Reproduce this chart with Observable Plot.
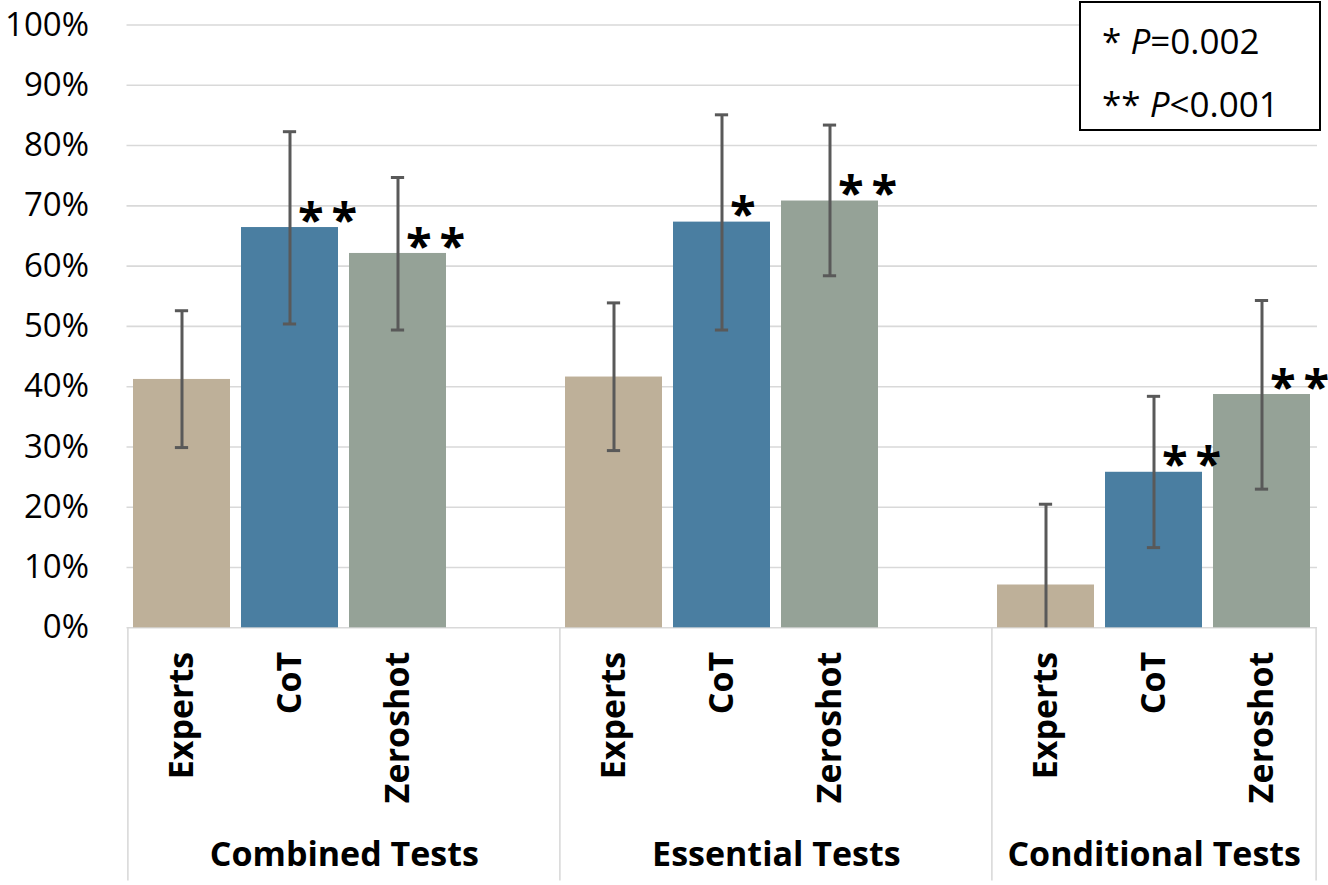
<!DOCTYPE html>
<html>
<head>
<meta charset="utf-8">
<script src="https://cdn.jsdelivr.net/npm/d3@7"></script>
<script src="https://cdn.jsdelivr.net/npm/@observablehq/plot@0.6"></script>
<style>
  html, body { margin: 0; padding: 0; background: #fff; }
  #wrap { position: relative; width: 1328px; height: 885px; overflow: hidden; }
  g[aria-label="x-axis tick label"] text { font-weight: bold; font-size: 34px; }
  g[aria-label="y-axis tick label"] text { font-size: 33px; }
  #legend {
    position: absolute; left: 1079px; top: 1px; width: 242px; height: 130px;
    border: 2px solid #000; background: #fff; box-sizing: border-box;
    font-family: "Open Sans", sans-serif; font-size: 35px; color: #000;
  }
  #legend div { position: absolute; left: 21px; white-space: nowrap; line-height: 1; }
</style>
</head>
<body>
<div id="wrap"></div>
<script>
const groups = ["Combined Tests", "Essential Tests", "Conditional Tests"];
const series = ["Experts", "CoT", "Zeroshot"];
const colors = ["#BEB099", "#4A7EA1", "#95A297"];

const expertsValue = [41.2, 41.6, 7.1];
const expertsLow   = [29.9, 29.4, 0.0];
const expertsHigh  = [52.6, 53.9, 20.5];

const cotValue = [66.4, 67.3, 25.8];
const cotLow   = [50.4, 49.4, 13.3];
const cotHigh  = [82.3, 85.1, 38.4];

const zeroshotValue = [62.1, 70.8, 38.7];
const zeroshotLow   = [49.4, 58.4, 23.0];
const zeroshotHigh  = [74.7, 83.4, 54.3];

const expertsStars  = ["", "", ""];
const cotStars      = ["**", "*", "**"];
const zeroshotStars = ["**", "**", "**"];

const yTicks = [0, 10, 20, 30, 40, 50, 60, 70, 80, 90, 100];
const legendStars = ["*", "**"];
const legendTests = ["=0.002", "<0.001"];
// slots per group (first two groups have an empty trailing slot)
const groupSlots = [4, 4, 3];

// build table
const values = [expertsValue, cotValue, zeroshotValue];
const lows = [expertsLow, cotLow, zeroshotLow];
const highs = [expertsHigh, cotHigh, zeroshotHigh];
const stars = [expertsStars, cotStars, zeroshotStars];
const rows = [];
const domain = [];
groups.forEach((g, gi) => {
  series.forEach((s, si) => {
    const key = g + "|" + s;
    domain.push(key);
    rows.push({group: g, series: s, key, value: values[si][gi], lo: lows[si][gi], hi: highs[si][gi], star: stars[si][gi]});
  });
  for (let k = series.length; k < groupSlots[gi]; k++) domain.push("gap" + gi + "|");
});

const W = 1328, H = 885;
const mL = 126.5, mR = W - 1317, mT = 24.5, mB = H - 627.3;
const padIn = 0.106, padOut = 0.053;
const step = (W - mL - mR) / (domain.length - padIn + 2 * padOut);
const capInset = (step * (1 - padIn) - 13) / 2;

const firstKeys = groups.map(g => g + "|" + series[0]);
const lastKey = groups[groups.length - 1] + "|" + series[series.length - 1];

const marks = [
  Plot.gridY(yTicks.filter(d => d > 0), {stroke: "#d9d9d9", strokeOpacity: 1, strokeWidth: 1.6}),
  Plot.ruleY([0], {stroke: "#d9d9d9", strokeWidth: 1.6}),
  Plot.ruleX(firstKeys, {x: d => d, y1: 0, y2: -42, dx: -step / 2, stroke: "#d9d9d9", strokeWidth: 1.6}),
  Plot.ruleX([lastKey], {x: d => d, y1: 0, y2: -42, dx: step / 2, stroke: "#d9d9d9", strokeWidth: 1.6}),
  Plot.barY(rows, {x: "key", y: "value", fill: "series"}),
  Plot.ruleX(rows, {x: "key", y1: "lo", y2: "hi", stroke: "#595959", strokeWidth: 3}),
  Plot.tickY(rows, {x: "key", y: "hi", stroke: "#595959", strokeWidth: 3, insetLeft: capInset, insetRight: capInset}),
  Plot.tickY(rows.filter(d => d.lo > 0), {x: "key", y: "lo", stroke: "#595959", strokeWidth: 3, insetLeft: capInset, insetRight: capInset}),
  Plot.text(rows.filter(d => d.star), {x: "key", y: "value", text: d => d.star.split("").join("\u2009"), textAnchor: "start", lineAnchor: "middle", dx: 8, dy: -6, fontSize: 47, fontWeight: "bold", fill: "#000"}),
  Plot.axisY({ticks: yTicks, tickFormat: d => d + "%", tickSize: 0, tickPadding: 38, fill: "#000", label: null}),
  Plot.axisX({tickRotate: -90, tickSize: 0, tickPadding: 24, tickFormat: k => k.split("|")[1] || "", fill: "#000", label: null}),
  ...groups.map((g, gi) => Plot.text([g], {
    x: () => firstKeys[gi], text: d => d, frameAnchor: "bottom", lineAnchor: "top",
    dy: 214, dx: (groupSlots[gi] - 1) / 2 * step, fontSize: 34, fontWeight: "bold", fill: "#000"
  }))
];

const chart = Plot.plot({
  width: W, height: H,
  marginLeft: mL, marginRight: mR, marginTop: mT, marginBottom: mB,
  style: {fontFamily: "'Open Sans', sans-serif", fontSize: "32px", color: "#000", background: "#fff", overflow: "visible"},
  x: {type: "band", domain, paddingInner: padIn, paddingOuter: padOut, axis: null, label: null},
  y: {domain: [0, 100], axis: null, label: null},
  color: {domain: series, range: colors},
  marks
});
const wrap = document.getElementById("wrap");
wrap.appendChild(chart);

const legend = document.createElement("div");
legend.id = "legend";
legendStars.forEach((s, i) => {
  const line = document.createElement("div");
  line.style.top = (i === 0 ? 20 : 83) + "px";
  line.appendChild(document.createTextNode(s + " "));
  const p = document.createElement("i");
  p.textContent = "P";
  line.appendChild(p);
  line.appendChild(document.createTextNode(legendTests[i]));
  legend.appendChild(line);
});
wrap.appendChild(legend);
</script>
</body>
</html>
